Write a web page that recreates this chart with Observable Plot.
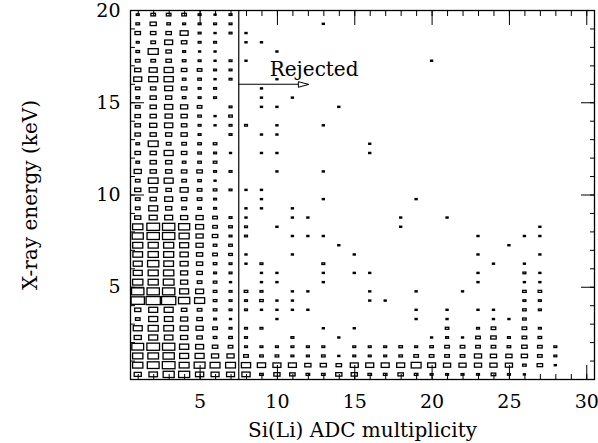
<!DOCTYPE html>
<html><head><meta charset="utf-8">
<script src="https://cdn.jsdelivr.net/npm/d3@7"></script>
<script src="https://cdn.jsdelivr.net/npm/@observablehq/plot@0.6"></script>
<style>body{margin:0;background:#fff}</style>
</head><body><div id="chart"></div>
<script>
// Si(Li) ADC multiplicity (column centres)
const multiplicity = [1,2,3,4,5,6,7,8,9,10,11,12,13,14,15,16,17,18,19,20,21,22,23,24,25,26,27,28];
// X-ray energy bin centres (keV), top row first
const energyBins = [19.75,19.25,18.75,18.25,17.75,17.25,16.75,16.25,15.75,15.25,14.75,14.25,13.75,13.25,12.75,12.25,11.75,11.25,10.75,10.25,
                    9.75,9.25,8.75,8.25,7.75,7.25,6.75,6.25,5.75,5.25,4.75,4.25,3.75,3.25,2.75,2.25,1.75,1.25,0.75,0.25];
// counts[row][column], rows follow energyBins, columns follow multiplicity
const counts = [
[2,5,5,5,2,1,2,0, 0,0,0,0,0,0,0,0,0,0,0,0, 0,0,0,0,0,0,0,0],
[3,9,3,2,2,2,2,0, 0,0,0,0,1,0,0,0,0,0,0,0, 0,0,0,0,0,0,0,0],
[7,7,7,15,2,1,2,1, 0,0,0,0,0,0,0,0,0,0,0,0, 0,0,0,0,0,0,0,0],
[2,5,15,7,2,2,0,1, 1,0,0,0,0,0,0,0,0,0,0,0, 0,0,0,0,0,0,0,0],
[3,24,7,2,1,1,0,0, 0,1,0,0,0,0,0,0,0,0,0,0, 0,0,0,0,0,0,0,0],
[5,5,7,3,2,1,2,1, 0,0,0,0,0,0,0,0,0,0,0,1, 0,0,0,0,0,0,0,0],
[9,15,19,7,5,2,2,0, 0,0,0,0,0,0,0,0,0,0,0,0, 0,0,0,0,0,0,0,0],
[15,19,20,3,3,1,2,0, 0,1,0,0,0,0,0,0,0,0,0,0, 0,0,0,0,0,0,0,0],
[5,7,15,7,2,2,0,0, 1,0,0,0,0,0,0,0,0,0,0,0, 0,0,0,0,0,0,0,0],
[3,9,9,3,2,2,0,0, 1,0,1,0,0,0,0,0,0,0,0,0, 0,0,0,0,0,0,0,0],
[5,9,16,12,5,0,2,0, 1,1,0,0,0,1,0,0,0,0,0,0, 0,0,0,0,0,0,0,0],
[7,9,12,9,3,1,3,0, 0,0,0,0,0,0,0,0,0,0,0,0, 0,0,0,0,0,0,0,0],
[7,12,16,7,2,1,2,2, 0,1,0,0,1,0,0,0,0,0,0,0, 0,0,0,0,0,0,0,0],
[7,9,9,9,2,0,2,0, 1,1,0,0,0,0,0,0,0,0,0,0, 0,0,0,0,0,0,0,0],
[3,23,5,5,3,3,0,0, 0,0,0,0,0,0,0,1,0,0,0,0, 0,0,0,0,0,0,0,0],
[7,9,19,7,3,2,1,0, 1,1,0,0,0,0,0,1,0,0,0,0, 0,0,0,0,0,0,0,0],
[3,9,9,3,3,3,0,0, 0,0,0,0,0,0,0,0,0,0,0,0, 0,0,0,0,0,0,0,0],
[12,9,9,7,7,2,2,0, 0,1,0,0,1,0,0,0,0,0,0,0, 0,0,0,0,0,0,0,0],
[5,22,19,5,3,1,0,0, 0,0,0,0,0,0,0,0,0,0,0,0, 0,0,0,0,0,0,0,0],
[9,15,7,15,5,3,2,1, 1,0,0,0,0,0,0,0,0,0,0,0, 0,0,0,0,0,0,0,0],
[5,9,15,7,5,2,0,0, 1,0,0,0,1,0,0,0,0,0,1,0, 0,0,0,0,0,0,0,0],
[5,19,9,5,3,2,0,1, 1,0,1,0,0,0,0,0,0,0,0,0, 0,0,0,0,0,0,0,0],
[9,15,15,12,12,5,2,1, 0,0,1,1,0,0,0,0,0,1,0,0, 1,0,0,0,0,0,0,0],
[25,38,36,29,15,5,3,2, 0,1,0,0,0,0,0,0,0,1,0,0, 0,0,0,0,0,0,1,0],
[29,36,36,24,12,7,2,2, 0,0,1,1,1,0,0,0,0,0,0,0, 0,0,1,0,0,1,1,0],
[24,24,24,19,12,3,3,0, 0,0,0,0,0,1,0,0,0,0,0,0, 0,0,0,0,1,0,0,0],
[22,25,24,16,9,5,3,1, 0,0,1,0,0,0,1,0,0,0,0,0, 0,0,1,0,0,0,1,0],
[19,30,22,15,9,3,2,1, 2,0,0,0,2,0,0,0,0,0,0,0, 0,0,0,1,0,1,0,0],
[19,24,25,12,7,2,2,0, 1,1,0,0,1,0,1,1,0,0,0,0, 0,0,1,0,0,2,1,0],
[25,24,27,12,5,3,1,0, 1,1,0,0,1,0,0,0,0,0,0,0, 0,0,1,0,0,1,1,0],
[36,36,36,19,15,3,2,3, 2,0,1,1,0,0,0,1,0,0,1,0, 0,1,0,0,0,3,3,0],
[42,48,48,30,24,3,2,2, 3,1,1,0,0,0,0,1,1,0,0,0, 0,0,0,0,0,2,2,0],
[9,19,19,7,5,3,2,2, 1,1,1,1,0,0,0,0,0,0,1,0, 1,0,1,1,0,3,2,0],
[5,19,17,12,7,2,1,0, 0,1,0,0,0,0,0,0,0,0,1,0, 1,0,0,1,1,3,0,0],
[19,24,22,15,12,5,2,2, 2,0,0,0,1,0,1,0,0,0,0,0, 3,0,2,5,0,5,2,0],
[12,19,17,12,7,3,3,2, 0,0,2,0,0,1,0,0,0,0,0,1, 2,1,5,7,2,5,3,0],
[33,38,36,20,15,7,5,2, 2,2,2,2,2,0,2,2,2,3,2,3, 5,5,5,5,3,7,5,2],
[25,27,30,19,19,12,12,5, 3,3,2,2,3,1,2,2,2,3,5,5, 5,5,12,9,9,9,5,2],
[25,33,38,23,28,23,23,20, 16,15,15,9,9,7,15,15,15,15,23,15, 12,12,12,12,12,3,7,1],
[12,17,29,29,16,15,15,16, 3,9,7,3,3,9,9,3,3,7,3,2, 2,2,2,5,2,1,0,0]
];
const xMajorTicks = [5,10,15,20,25,30];
const xMinorTicks = [1,2,3,4,5,6,7,8,9,10,11,12,13,14,15,16,17,18,19,20,21,22,23,24,25,26,27,28,29,30];
const yMajorTicks = [5,10,15,20];
const yMinorTicks = [1,2,3,4,5,6,7,8,9,10,11,12,13,14,15,16,17,18,19,20];
const cutMultiplicity = 7.5;
const arrowEnergy = 16;
const arrowEnd = 12;
const rejectLabel = "Rejected";
const xTitle = "Si(Li) ADC multiplicity";
const yTitle = "X-ray energy (keV)";

const maxCount = d3.max(counts.flat());
const cells = [];
energyBins.forEach((e, i) => multiplicity.forEach((m, j) => {
  const c = counts[i][j];
  if (c > 0) {
    const s = Math.sqrt(c / maxCount);
    cells.push({m, e, c, hw: 0.5 * 0.92 * s, hh: 0.25 * 0.87 * s});
  }
}));

const headShape = {draw(ctx, l) { ctx.moveTo(0, -l); ctx.lineTo(-2.6, 0); ctx.lineTo(2.6, 0); ctx.closePath(); }};
const font = "DejaVu Serif";

const chart = Plot.plot({
  width: 598, height: 443,
  marginLeft: 130, marginRight: 4, marginTop: 10, marginBottom: 64,
  style: {fontFamily: font, fontSize: "19px", color: "black", background: "white"},
  x: {domain: [0.5, 30.5]},
  y: {domain: [0, 20]},
  marks: [
    Plot.rect(cells, {x1: d => d.m - d.hw, x2: d => d.m + d.hw, y1: d => d.e - d.hh, y2: d => d.e + d.hh,
      fill: "none", stroke: "black", strokeWidth: 1.3}),
    Plot.ruleX([cutMultiplicity], {stroke: "black", strokeWidth: 1.2}),
    Plot.ruleY([arrowEnergy], {x1: cutMultiplicity, x2: arrowEnd, stroke: "black", strokeWidth: 1.1}),
    Plot.vector([arrowEnd], {x: d => d, y: arrowEnergy, anchor: "end", length: 10, rotate: 90, shape: headShape,
      fill: "white", stroke: "black", strokeWidth: 1}),
    Plot.text([rejectLabel], {x: 9.5, y: 16.46, text: d => d, textAnchor: "start", lineAnchor: "bottom",
      fontFamily: font, fontSize: 20}),
    // ticks (inward)
    Plot.axisX(xMinorTicks, {anchor: "bottom", tickSize: -5, fill: "none", label: null, stroke: "black"}),
    Plot.axisX(xMajorTicks, {anchor: "bottom", tickSize: -14, fill: "none", label: null, stroke: "black"}),
    Plot.axisX(xMinorTicks, {anchor: "top", tickSize: -5, fill: "none", label: null, stroke: "black"}),
    Plot.axisX(xMajorTicks, {anchor: "top", tickSize: -14, fill: "none", label: null, stroke: "black"}),
    Plot.axisY(yMinorTicks, {anchor: "left", tickSize: -5, fill: "none", label: null, stroke: "black"}),
    Plot.axisY(yMajorTicks, {anchor: "left", tickSize: -14, fill: "none", label: null, stroke: "black"}),
    Plot.axisY(yMinorTicks, {anchor: "right", tickSize: -5, fill: "none", label: null, stroke: "black"}),
    Plot.axisY(yMajorTicks, {anchor: "right", tickSize: -14, fill: "none", label: null, stroke: "black"}),
    // labels
    Plot.axisX(xMajorTicks, {anchor: "bottom", tickSize: 0, tickPadding: 15, label: null, fill: "black", stroke: "none", tickFormat: d => String(d)}),
    Plot.axisY(yMajorTicks, {anchor: "left", tickSize: 0, tickPadding: 10, label: null, fill: "black", stroke: "none", tickFormat: d => String(d)}),
    Plot.text([xTitle], {frameAnchor: "bottom", dy: 57, dx: 0, text: d => d, fontFamily: font, fontSize: 20, textAnchor: "middle"}),
    Plot.text([yTitle], {frameAnchor: "left", dx: -100, rotate: -90, text: d => d, fontFamily: font, fontSize: 20, textAnchor: "middle"}),
    Plot.frame({stroke: "black", strokeWidth: 1.3})
  ]
});
document.getElementById("chart").appendChild(chart);
</script>
</body></html>
